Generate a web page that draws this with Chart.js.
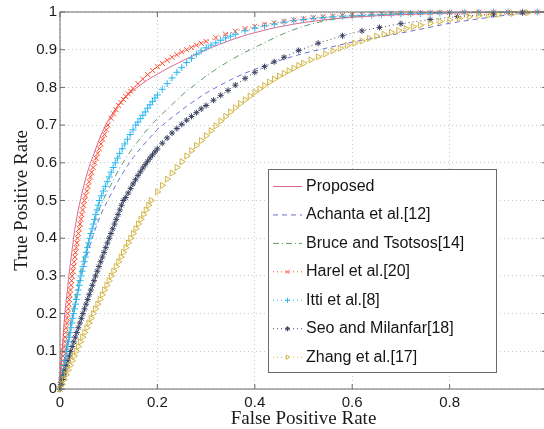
<!DOCTYPE html>
<html>
<head>
<meta charset="utf-8">
<script src="https://cdn.jsdelivr.net/npm/chart.js@4.4.1/dist/chart.umd.min.js"></script>
<style>
  html, body { margin: 0; padding: 0; background: #fff; overflow: hidden; }
  #wrap { width: 544px; height: 429px; overflow: hidden; }
</style>
</head>
<body>
<div id="wrap"><canvas id="roc" width="556" height="429"></canvas></div>
<script>
// false positive rate for the three plain line curves
const fpr = [0, 0.005, 0.01, 0.015, 0.02, 0.025, 0.03, 0.04, 0.05, 0.06, 0.07, 0.08, 0.09, 0.1,
  0.11, 0.12, 0.135, 0.15, 0.165, 0.18, 0.2, 0.22, 0.24, 0.26, 0.28, 0.3, 0.325, 0.35, 0.375, 0.4,
  0.43, 0.46, 0.5, 0.55, 0.6, 0.65, 0.7, 0.75, 0.8, 0.85, 0.9, 0.95, 1];

const tprProposed = [0, 0.11, 0.2, 0.26, 0.32, 0.37, 0.42, 0.49, 0.545, 0.59, 0.625, 0.66, 0.69, 0.715,
  0.735, 0.753, 0.775, 0.792, 0.806, 0.82, 0.835, 0.85, 0.863, 0.876, 0.888, 0.9, 0.913, 0.925, 0.936, 0.945,
  0.955, 0.963, 0.972, 0.98, 0.986, 0.99, 0.993, 0.995, 0.997, 0.998, 0.999, 1, 1];
const tprAchanta = [0, 0.04, 0.08, 0.12, 0.155, 0.19, 0.22, 0.28, 0.33, 0.375, 0.415, 0.45, 0.48, 0.505,
  0.53, 0.553, 0.585, 0.613, 0.638, 0.66, 0.688, 0.71, 0.73, 0.75, 0.768, 0.785, 0.803, 0.82, 0.835, 0.848,
  0.862, 0.875, 0.89, 0.905, 0.92, 0.932, 0.944, 0.957, 0.97, 0.98, 0.989, 0.996, 1];
const tprBruce = [0, 0.045, 0.085, 0.125, 0.165, 0.2, 0.235, 0.3, 0.355, 0.4, 0.44, 0.475, 0.505, 0.53,
  0.555, 0.58, 0.612, 0.64, 0.665, 0.69, 0.717, 0.742, 0.767, 0.79, 0.81, 0.83, 0.852, 0.872, 0.89, 0.906,
  0.925, 0.943, 0.962, 0.978, 0.988, 0.993, 0.996, 0.998, 0.999, 1, 1, 1, 1];

// [fpr, tpr] at each marker of the marker curves
const harelRoc = [[0, 0], [0.0009, 0.0125], [0.0018, 0.025], [0.0026, 0.0375], [0.0035, 0.05], [0.0044, 0.0625],
  [0.0053, 0.075], [0.0061, 0.0875], [0.007, 0.1], [0.0081, 0.1125], [0.0093, 0.125], [0.0104, 0.1375],
  [0.0115, 0.15], [0.0126, 0.1625], [0.0138, 0.175], [0.0149, 0.1875], [0.016, 0.2], [0.0171, 0.2125],
  [0.0183, 0.225], [0.0194, 0.2375], [0.0205, 0.25], [0.0216, 0.2625], [0.0228, 0.275], [0.0239, 0.2875],
  [0.025, 0.3], [0.0264, 0.3125], [0.0278, 0.325], [0.0291, 0.3375], [0.0305, 0.35], [0.0319, 0.3625],
  [0.0333, 0.375], [0.0346, 0.3875], [0.036, 0.4], [0.0378, 0.4125], [0.0395, 0.425], [0.0413, 0.4375],
  [0.043, 0.45], [0.0448, 0.4625], [0.0465, 0.475], [0.0483, 0.4875], [0.05, 0.5], [0.0525, 0.5125],
  [0.055, 0.525], [0.0575, 0.5375], [0.06, 0.55], [0.0625, 0.5625], [0.065, 0.575], [0.068, 0.5875],
  [0.071, 0.6], [0.0743, 0.6125], [0.0775, 0.625], [0.0807, 0.6375], [0.084, 0.65], [0.0877, 0.6625],
  [0.0915, 0.675], [0.0951, 0.6875], [0.0985, 0.7], [0.105, 0.718], [0.11, 0.73], [0.115, 0.741],
  [0.12, 0.752], [0.125, 0.76], [0.13, 0.768], [0.135, 0.776], [0.14, 0.783], [0.145, 0.79], [0.15, 0.797],
  [0.16, 0.81], [0.17, 0.822], [0.18, 0.834], [0.19, 0.845], [0.2, 0.855], [0.21, 0.864], [0.22, 0.872],
  [0.23, 0.88], [0.24, 0.887], [0.25, 0.894], [0.26, 0.9], [0.27, 0.906], [0.28, 0.912], [0.29, 0.917],
  [0.3, 0.922], [0.32, 0.932], [0.34, 0.941], [0.36, 0.949], [0.38, 0.956], [0.4, 0.962], [0.42, 0.967],
  [0.44, 0.971], [0.46, 0.975], [0.48, 0.979], [0.5, 0.982], [0.52, 0.985], [0.54, 0.987], [0.56, 0.989],
  [0.58, 0.991], [0.6, 0.992], [0.62, 0.993], [0.64, 0.994], [0.66, 0.995], [0.68, 0.996], [0.7, 0.997],
  [0.72, 0.997], [0.74, 0.998], [0.76, 0.998], [0.78, 0.999], [0.8, 0.999], [0.83, 0.999], [0.86, 1],
  [0.89, 1], [0.92, 1], [0.95, 1], [0.98, 1], [1, 1]];

const ittiRoc = [[0, 0], [0.0018, 0.0125], [0.0035, 0.025], [0.0053, 0.0375], [0.007, 0.05], [0.0088, 0.0625],
  [0.0105, 0.075], [0.0123, 0.0875], [0.014, 0.1], [0.0158, 0.1125], [0.0175, 0.125], [0.0193, 0.1375],
  [0.021, 0.15], [0.0228, 0.1625], [0.0245, 0.175], [0.0263, 0.1875], [0.028, 0.2], [0.0299, 0.2125],
  [0.0318, 0.225], [0.0336, 0.2375], [0.0355, 0.25], [0.0374, 0.2625], [0.0393, 0.275], [0.0411, 0.2875],
  [0.043, 0.3], [0.0453, 0.3125], [0.0475, 0.325], [0.0498, 0.3375], [0.052, 0.35], [0.0543, 0.3625],
  [0.0565, 0.375], [0.0588, 0.3875], [0.061, 0.4], [0.0635, 0.4125], [0.066, 0.425], [0.0685, 0.4375],
  [0.071, 0.45], [0.0735, 0.4625], [0.076, 0.475], [0.0785, 0.4875], [0.081, 0.5], [0.085, 0.5125],
  [0.089, 0.525], [0.093, 0.5375], [0.097, 0.55], [0.101, 0.5625], [0.105, 0.575], [0.1093, 0.5875],
  [0.1135, 0.6], [0.118, 0.6125], [0.1225, 0.625], [0.1278, 0.6375], [0.133, 0.65], [0.1385, 0.6625],
  [0.144, 0.675], [0.1498, 0.6875], [0.1555, 0.7], [0.16, 0.708], [0.165, 0.717], [0.17, 0.726],
  [0.175, 0.735], [0.18, 0.745], [0.185, 0.754], [0.19, 0.763], [0.195, 0.772], [0.2, 0.78], [0.21, 0.795],
  [0.22, 0.81], [0.23, 0.825], [0.24, 0.84], [0.25, 0.853], [0.26, 0.866], [0.27, 0.877], [0.28, 0.888],
  [0.29, 0.897], [0.3, 0.905], [0.31, 0.912], [0.32, 0.918], [0.33, 0.925], [0.34, 0.931], [0.35, 0.936],
  [0.36, 0.941], [0.38, 0.95], [0.4, 0.957], [0.42, 0.963], [0.44, 0.968], [0.46, 0.973], [0.48, 0.977],
  [0.5, 0.98], [0.52, 0.983], [0.54, 0.985], [0.56, 0.987], [0.58, 0.989], [0.6, 0.99], [0.62, 0.991],
  [0.64, 0.992], [0.66, 0.993], [0.68, 0.994], [0.7, 0.995], [0.72, 0.996], [0.74, 0.996], [0.76, 0.997],
  [0.78, 0.997], [0.8, 0.998], [0.83, 0.999], [0.86, 0.999], [0.89, 1], [0.92, 1], [0.95, 1], [0.98, 1], [1, 1]];

const seoRoc = [[0, 0], [0.0028, 0.0125], [0.0055, 0.025], [0.0083, 0.0375], [0.011, 0.05], [0.0138, 0.0625],
  [0.0165, 0.075], [0.0193, 0.0875], [0.022, 0.1], [0.0251, 0.1125], [0.0283, 0.125], [0.0314, 0.1375],
  [0.0345, 0.15], [0.0376, 0.1625], [0.0408, 0.175], [0.0439, 0.1875], [0.047, 0.2], [0.0503, 0.2125],
  [0.0535, 0.225], [0.0568, 0.2375], [0.06, 0.25], [0.0633, 0.2625], [0.0665, 0.275], [0.0698, 0.2875],
  [0.073, 0.3], [0.0765, 0.3125], [0.08, 0.325], [0.0835, 0.3375], [0.087, 0.35], [0.0905, 0.3625],
  [0.094, 0.375], [0.0975, 0.3875], [0.101, 0.4], [0.1046, 0.4125], [0.1083, 0.425], [0.1119, 0.4375],
  [0.1155, 0.45], [0.1191, 0.4625], [0.1228, 0.475], [0.1264, 0.4875], [0.13, 0.5], [0.135, 0.508],
  [0.14, 0.52], [0.145, 0.532], [0.15, 0.544], [0.155, 0.555], [0.16, 0.566], [0.165, 0.576], [0.17, 0.586],
  [0.175, 0.595], [0.18, 0.604], [0.185, 0.613], [0.19, 0.621], [0.195, 0.629], [0.2, 0.637], [0.21, 0.652],
  [0.22, 0.666], [0.23, 0.679], [0.24, 0.691], [0.25, 0.702], [0.26, 0.713], [0.27, 0.723], [0.28, 0.733],
  [0.29, 0.743], [0.3, 0.752], [0.315, 0.766], [0.33, 0.779], [0.345, 0.792], [0.36, 0.806], [0.38, 0.824],
  [0.4, 0.84], [0.42, 0.855], [0.44, 0.868], [0.46, 0.88], [0.49, 0.898], [0.53, 0.917], [0.58, 0.937],
  [0.62, 0.95], [0.656, 0.959], [0.7, 0.969], [0.76, 0.98], [0.816, 0.988], [0.89, 0.994], [0.95, 0.998], [1, 1]];

const zhangRoc = [[0, 0], [0.0041, 0.0125], [0.0083, 0.025], [0.0124, 0.0375], [0.0165, 0.05], [0.0206, 0.0625],
  [0.0248, 0.075], [0.0289, 0.0875], [0.033, 0.1], [0.0374, 0.1125], [0.0418, 0.125], [0.0461, 0.1375],
  [0.0505, 0.15], [0.0549, 0.1625], [0.0593, 0.175], [0.0636, 0.1875], [0.068, 0.2], [0.0726, 0.2125],
  [0.0773, 0.225], [0.0819, 0.2375], [0.0865, 0.25], [0.0911, 0.2625], [0.0958, 0.275], [0.1004, 0.2875],
  [0.105, 0.3], [0.11, 0.3125], [0.115, 0.325], [0.12, 0.3375], [0.125, 0.35], [0.13, 0.3625], [0.135, 0.375],
  [0.14, 0.3875], [0.145, 0.4], [0.1503, 0.4125], [0.1555, 0.425], [0.1608, 0.4375], [0.166, 0.45],
  [0.1713, 0.4625], [0.1765, 0.475], [0.1818, 0.4875], [0.187, 0.5], [0.2, 0.523], [0.21, 0.54], [0.22, 0.557],
  [0.23, 0.573], [0.24, 0.588], [0.25, 0.603], [0.26, 0.618], [0.27, 0.632], [0.28, 0.646], [0.29, 0.659],
  [0.3, 0.672], [0.31, 0.685], [0.32, 0.698], [0.33, 0.711], [0.34, 0.723], [0.35, 0.735], [0.36, 0.746],
  [0.37, 0.757], [0.38, 0.767], [0.39, 0.777], [0.4, 0.787], [0.41, 0.796], [0.42, 0.805], [0.43, 0.814],
  [0.44, 0.822], [0.45, 0.83], [0.46, 0.837], [0.47, 0.844], [0.48, 0.851], [0.49, 0.858], [0.5, 0.864],
  [0.515, 0.873], [0.53, 0.881], [0.545, 0.889], [0.56, 0.897], [0.575, 0.904], [0.59, 0.911], [0.605, 0.917],
  [0.62, 0.923], [0.635, 0.93], [0.65, 0.936], [0.665, 0.941], [0.68, 0.946], [0.695, 0.951], [0.71, 0.956],
  [0.725, 0.961], [0.74, 0.965], [0.76, 0.97], [0.78, 0.975], [0.8, 0.979], [0.82, 0.983], [0.84, 0.987],
  [0.86, 0.99], [0.88, 0.992], [0.9, 0.994], [0.93, 0.996], [0.96, 0.998], [1, 1]];

const xTicks = [0, 0.2, 0.4, 0.6, 0.8];

const SANS = '"Liberation Sans", Arial, Helvetica, sans-serif';
const SERIF = '"Liberation Serif", "Times New Roman", serif';

function fromArrays(ys) {
  return fpr.map((x, i) => ({ x: x, y: ys[i] }));
}

function fromPairs(pairs) {
  return pairs.map(p => ({ x: p[0], y: p[1] }));
}

function lineSet(label, ys, color, dash, order) {
  return {
    label: label, data: fromArrays(ys), showLine: true, borderColor: color, borderWidth: 1,
    borderDash: dash, legendDash: dash, pointRadius: 0, cubicInterpolationMode: 'monotone',
    order: order, clip: false
  };
}

function markSet(label, pairs, color, style, radius, rotation, order) {
  return {
    label: label, data: fromPairs(pairs), showLine: true, borderColor: color, borderWidth: 1,
    borderDash: [1, 3], legendDash: [1, 3], pointStyle: style, pointRadius: radius,
    pointRotation: rotation, pointBorderColor: color, pointBackgroundColor: 'rgba(0,0,0,0)',
    pointBorderWidth: 1, order: order, clip: false
  };
}

// matlab style box with inward ticks
const axesFrame = {
  id: 'axesFrame',
  afterDatasetsDraw(chart) {
    const { ctx, chartArea: a, scales: { x, y } } = chart;
    ctx.save();
    ctx.strokeStyle = '#6a6a6a';
    ctx.lineWidth = 1;
    ctx.strokeRect(a.left, a.top, a.right - a.left, a.bottom - a.top);
    ctx.beginPath();
    x.ticks.forEach(t => {
      const px = x.getPixelForValue(t.value);
      ctx.moveTo(px, a.bottom); ctx.lineTo(px, a.bottom - 5);
      ctx.moveTo(px, a.top); ctx.lineTo(px, a.top + 5);
    });
    y.ticks.forEach(t => {
      const py = y.getPixelForValue(t.value);
      ctx.moveTo(a.left, py); ctx.lineTo(a.left + 5, py);
      ctx.moveTo(a.right, py); ctx.lineTo(a.right - 5, py);
    });
    ctx.stroke();
    ctx.restore();
  }
};

const legendBox = {
  id: 'legendBox',
  afterDraw(chart) {
    const ctx = chart.ctx;
    const left = 268, top = 169, w = 228, h = 203;
    ctx.save();
    ctx.fillStyle = '#fff';
    ctx.fillRect(left, top, w, h);
    ctx.strokeStyle = '#6a6a6a';
    ctx.lineWidth = 1;
    ctx.strokeRect(left + 0.5, top + 0.5, w, h);
    chart.data.datasets.forEach((ds, i) => {
      const y = 186.5 + i * 28.45;
      ctx.strokeStyle = ds.borderColor;
      ctx.lineWidth = 1;
      ctx.setLineDash(ds.legendDash);
      ctx.beginPath();
      ctx.moveTo(273, y); ctx.lineTo(302, y);
      ctx.stroke();
      ctx.setLineDash([]);
      if (ds.pointRadius > 0) {
        ctx.fillStyle = 'rgba(0,0,0,0)';
        Chart.helpers.drawPoint(ctx, { pointStyle: ds.pointStyle, rotation: ds.pointRotation, radius: 2.5, borderWidth: 1 }, 287.5, y);
      }
      ctx.fillStyle = '#151515';
      ctx.font = '16px ' + SANS;
      ctx.textBaseline = 'middle';
      ctx.textAlign = 'left';
      ctx.fillText(ds.label, 306, y);
    });
    ctx.restore();
  }
};

new Chart(document.getElementById('roc'), {
  type: 'scatter',
  data: {
    datasets: [
      lineSet('Proposed', tprProposed, '#d9688f', [], 7),
      lineSet('Achanta et al.[12]', tprAchanta, '#6f6fd2', [5, 4], 6),
      lineSet('Bruce and Tsotsos[14]', tprBruce, '#5f9a68', [6, 3, 1, 3], 5),
      markSet('Harel et al.[20]', harelRoc, '#ff4a2c', 'crossRot', 3.5, 0, 4),
      markSet('Itti et al.[8]', ittiRoc, '#2db6ef', 'cross', 3.5, 0, 3),
      markSet('Seo and Milanfar[18]', seoRoc, '#3b4262', 'star', 3, 0, 2),
      markSet('Zhang et al.[17]', zhangRoc, '#d3b646', 'triangle', 3.5, 90, 1)
    ]
  },
  options: {
    responsive: false,
    animation: false,
    devicePixelRatio: 1,
    layout: { padding: { left: 0, top: 9, right: 9, bottom: 0 } },
    plugins: { legend: { display: false }, tooltip: { enabled: false } },
    scales: {
      x: {
        type: 'linear', min: 0, max: 1,
        afterFit: s => { s.height = 40; },
        afterBuildTicks: s => { s.ticks = xTicks.concat([1]).map(v => ({ value: v })); },
        ticks: {
          padding: 5, color: '#1a1a1a', font: { family: SANS, size: 15 },
          callback: v => (v >= 1 ? '' : String(+v.toFixed(1)))
        },
        grid: { color: '#c9c9c9', drawTicks: false },
        border: { display: false, dash: [1, 3] },
        title: {
          display: true, text: 'False Positive Rate', color: '#1a1a1a',
          font: { family: SERIF, size: 19, lineHeight: 1 }, padding: { top: 0, bottom: 0 }
        }
      },
      y: {
        type: 'linear', min: 0, max: 1,
        afterFit: s => { s.width = 60; },
        ticks: {
          stepSize: 0.1, padding: 3, color: '#1a1a1a', font: { family: SANS, size: 15 },
          callback: v => String(+v.toFixed(1))
        },
        grid: { color: '#c9c9c9', drawTicks: false },
        border: { display: false, dash: [1, 3] },
        title: {
          display: true, text: 'True Positive Rate', color: '#1a1a1a',
          font: { family: SERIF, size: 19, lineHeight: 1 }, padding: { top: 12.5, bottom: 0 }
        }
      }
    }
  },
  plugins: [axesFrame, legendBox]
});
</script>
</body>
</html>
